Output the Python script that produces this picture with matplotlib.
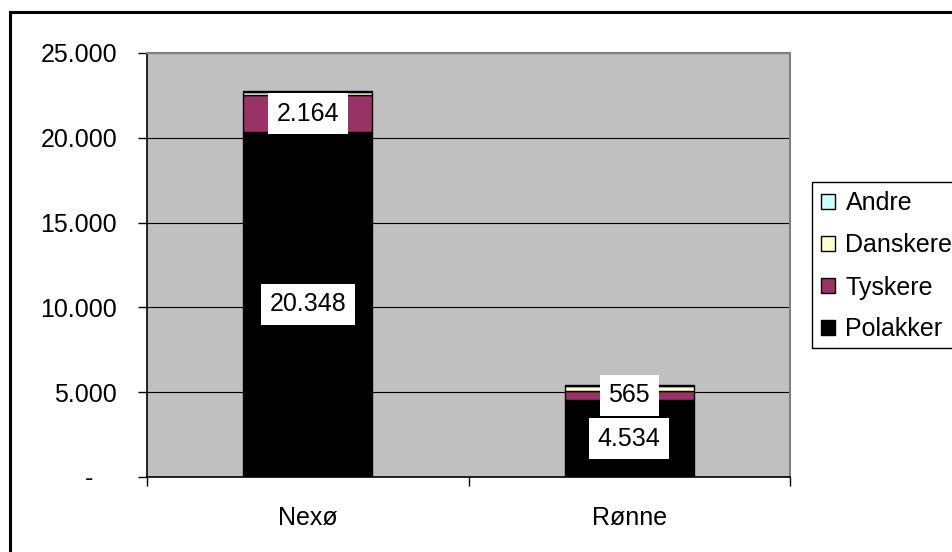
import numpy as np
import matplotlib
matplotlib.use('Agg')
import matplotlib.pyplot as plt
from matplotlib.patches import Rectangle, Patch
from matplotlib.ticker import FuncFormatter, FixedLocator
from matplotlib.transforms import ScaledTranslation

plt.rcParams['font.family'] = ['Liberation Sans', 'DejaVu Sans']

byer = ['Nexø', 'Rønne']
polakker = [20348, 4534]
tyskere = [2164, 565]
danskere = [190, 280]
andre = [30, 60]

serier = ['Polakker', 'Tyskere', 'Danskere', 'Andre']
farver = ['#000000', '#993366', '#FFFFCC', '#CCFFFF']
vaerdier = [polakker, tyskere, danskere, andre]

fs = 18

fig = plt.figure(figsize=(9.53, 5.52), dpi=100)
fig.patch.set_facecolor('white')

# outer chart frame (runs off the right and bottom edge)
fig.patches.append(Rectangle((10/953, -0.1), 1.2, 1 - 11.5/552 + 0.1,
                             transform=fig.transFigure, fill=False,
                             edgecolor='black', lw=2.2, zorder=0))

ax = fig.add_axes([147/953, 1 - 477/552, (790 - 147)/953, (477 - 53)/552])
ax.set_facecolor('#C0C0C0')

x = np.arange(len(byer))
bund = np.zeros(len(byer))
for navn, farve, v in zip(serier, farver, vaerdier):
    ax.bar(x, v, 0.4, bottom=bund, color=farve, edgecolor='black',
           linewidth=1, label=navn, zorder=3)
    bund = bund + np.array(v)

# data labels for the two largest series
bund = np.zeros(len(byer))
for v in [polakker, tyskere]:
    for i, val in enumerate(v):
        ax.text(x[i], bund[i] + val / 2, f'{val:,}'.replace(',', '.'),
                ha='center', va='center', fontsize=fs, zorder=5,
                bbox=dict(boxstyle='square,pad=0.34', fc='white', ec='none'))
    bund = bund + np.array(v)

ax.set_xlim(-0.5, 1.5)
ax.set_ylim(0, 25000)
ax.set_yticks(np.arange(0, 25001, 5000))
ax.yaxis.set_major_formatter(FuncFormatter(
    lambda v, p: '-' if v == 0 else f'{int(v):,}'.replace(',', '.')))
ax.yaxis.grid(True, color='black', lw=0.8, zorder=1)
ax.set_axisbelow(True)

ax.set_xticks(x)
ax.set_xticklabels(byer)
ax.xaxis.set_minor_locator(FixedLocator([-0.5, 0.5, 1.5]))
ax.tick_params(axis='x', which='major', length=0, pad=21, labelsize=fs)
ax.tick_params(axis='x', which='minor', length=6.5, width=1, direction='out')
ax.tick_params(axis='y', length=6.5, width=1, direction='out', pad=15, labelsize=fs)

fig.canvas.draw()
nul = ax.get_yticklabels()[0]
nul.set_transform(nul.get_transform() + ScaledTranslation(-0.24, 0, fig.dpi_scale_trans))

for s in ['top', 'right']:
    ax.spines[s].set_color('#808080')
    ax.spines[s].set_linewidth(1.5)
for s in ['left', 'bottom']:
    ax.spines[s].set_color('black')
    ax.spines[s].set_linewidth(1.2)

handles = [Patch(facecolor=f, edgecolor='black', lw=1, label=n)
           for n, f in zip(serier, farver)][::-1]
leg = fig.legend(handles=handles, loc='upper left',
                 bbox_to_anchor=(812/953, 1 - 182/552), fontsize=fs,
                 frameon=False, borderaxespad=0, handlelength=0.56,
                 handleheight=0.56, handletextpad=0.4, labelspacing=0.72,
                 borderpad=0.38)

# legend frame runs past the right edge of the picture
fig.canvas.draw()
bb = leg.get_window_extent().transformed(fig.transFigure.inverted())
fig.patches.append(Rectangle((bb.x0, bb.y0 + 3/552), 0.2, bb.height - 3/552,
                             transform=fig.transFigure, fill=False,
                             edgecolor='black', lw=1, zorder=2))

fig.savefig('out.png', dpi=100)
